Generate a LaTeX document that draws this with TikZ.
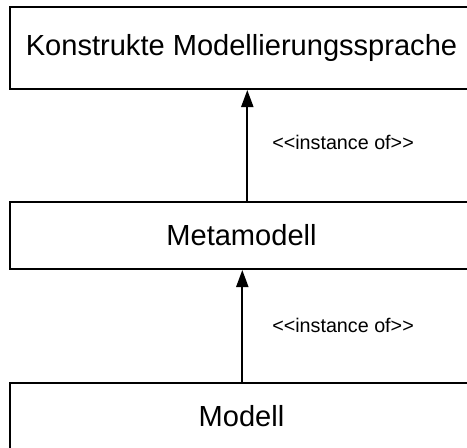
\documentclass[tikz,border=0pt]{standalone}
\usepackage{fontspec}
\setmainfont{Liberation Sans}
\usetikzlibrary{arrows.meta}
\newcommand{\stereo}[1]{<\kern0pt<#1>\kern0pt>}
\begin{document}
\begin{tikzpicture}[x=0.75pt,y=-0.75pt,
  layerbox/.style={draw=black,line width=1.5pt,fill=white,minimum width=348pt,
    inner sep=0pt,font=\fontsize{21.8pt}{26pt}\selectfont},
  instof/.style={line width=1.5pt,-{Triangle[length=12.75pt,width=9pt]}},
  stlabel/.style={anchor=west,inner sep=0pt,font=\fontsize{14.8pt}{18pt}\selectfont}]
  \useasboundingbox (0,0) rectangle (467,447);
  \clip (0,0) rectangle (467,447);
  % three layers of the modelling hierarchy
  \node[layerbox,minimum height=61.5pt] (lang) at (241.5,48) {Konstrukte Modellierungssprache};
  \node[layerbox,minimum height=50.25pt] (meta) at (241.5,235.5) {Metamodell};
  \node[layerbox,minimum height=50.25pt] (model) at (241.5,416.5) {Modell};
  % x positions of the two connectors
  \coordinate (c1) at (247.3,0);
  \coordinate (c2) at (242.3,0);
  \draw[instof] (meta.north -| c1) -- (lang.south -| c1);
  \draw[instof] (model.north -| c2) -- (meta.south -| c2);
  % stereotype labels
  \node[stlabel] (l1) at (272,142) {\stereo{instance of}};
  \node[stlabel] (l2) at (272,325) {\stereo{instance of}};
\end{tikzpicture}
\end{document}
